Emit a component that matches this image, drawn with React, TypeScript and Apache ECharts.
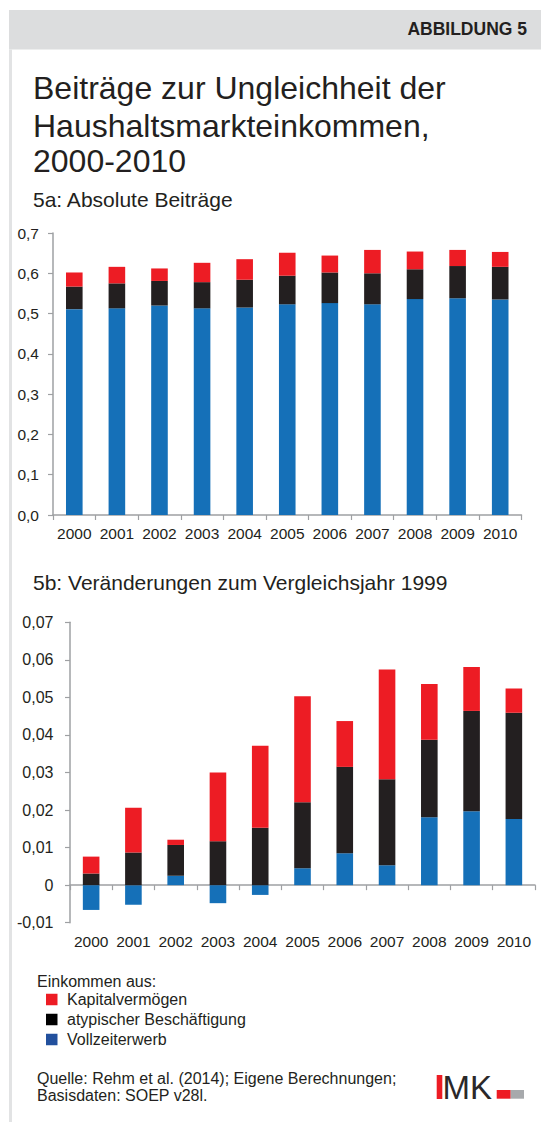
import React, { useEffect, useRef } from "react";
import * as echarts from "echarts";

// ---------- data ----------
const years = ["2000", "2001", "2002", "2003", "2004", "2005", "2006", "2007", "2008", "2009", "2010"];

// 5a: absolute contributions (stacked segments)
const absVollzeit = [0.511, 0.513, 0.520, 0.513, 0.515, 0.523, 0.526, 0.523, 0.536, 0.538, 0.535];
const absAtypisch = [0.056, 0.062, 0.061, 0.065, 0.069, 0.071, 0.076, 0.077, 0.074, 0.080, 0.081];
const absKapital = [0.035, 0.041, 0.031, 0.048, 0.051, 0.057, 0.042, 0.058, 0.044, 0.040, 0.037];

// 5b: changes vs. 1999 (stacked segments)
const chgVollzeit = [-0.0066, -0.0052, 0.0025, -0.0048, -0.0026, 0.0045, 0.0085, 0.0053, 0.0181, 0.0197, 0.0176];
const chgAtypisch = [0.0031, 0.0087, 0.0082, 0.0117, 0.0153, 0.0176, 0.0230, 0.0229, 0.0206, 0.0267, 0.0283];
const chgKapital = [0.0045, 0.0119, 0.0014, 0.0183, 0.0218, 0.0282, 0.0122, 0.0292, 0.0149, 0.0117, 0.0065];

const yTicksAbs = ["0,0", "0,1", "0,2", "0,3", "0,4", "0,5", "0,6", "0,7"];
const yTicksChg = ["-0,01", "0", "0,01", "0,02", "0,03", "0,04", "0,05", "0,06", "0,07"];

const seriesNames = ["Vollzeiterwerb", "atypischer Beschäftigung", "Kapitalvermögen"];
const legendLabels = ["Kapitalvermögen", "atypischer Beschäftigung", "Vollzeiterwerb"];

const titleLines = ["Beiträge zur Ungleichheit der", "Haushaltsmarkteinkommen,", "2000-2010"];
const subtitleA = "5a: Absolute Beiträge";
const subtitleB = "5b: Veränderungen zum Vergleichsjahr 1999";
const legendHeading = "Einkommen aus:";
const sourceLines = ["Quelle: Rehm et al. (2014); Eigene Berechnungen;", "Basisdaten: SOEP v28l."];

// ---------- styles ----------
const FONT = "'Liberation Sans', Arial, Helvetica, sans-serif";
const BLUE = "#1570B8";
const BLACK = "#231F20";
const RED = "#ED1C24";
const LEG_COLORS = ["#ED1C24", "#000000", "#22509D"];
const AXIS = "#9EA0A3";
const TEXT = "#231F20";

function txt(text: string, x: number, y: number, size: number, opts: any = {}) {
  return {
    type: "text",
    x,
    y,
    silent: true,
    style: {
      text,
      fill: opts.fill || TEXT,
      fontSize: size,
      fontFamily: FONT,
      fontWeight: opts.weight || "normal",
      align: opts.align || "left",
      textAlign: opts.align || "left",
      verticalAlign: "middle",
      textVerticalAlign: "middle",
    },
  };
}

export default function App() {
  const ref = useRef<HTMLDivElement>(null);

  useEffect(() => {
    if (!ref.current) return;
    const chart = echarts.init(ref.current, undefined, { renderer: "svg" });

    const graphic: any[] = [
      { type: "rect", silent: true, shape: { x: 9, y: 10, width: 532, height: 39.5 }, style: { fill: "#DCDDDE" } },
      { type: "rect", silent: true, shape: { x: 9, y: 49.5, width: 3, height: 1073 }, style: { fill: "#E2E3E4" } },
      txt("ABBILDUNG 5", 527, 28.5, 17.5, { weight: "bold", align: "right" }),
      txt(titleLines[0], 33, 88, 32),
      txt(titleLines[1], 33, 126, 32),
      txt(titleLines[2], 33, 160.5, 32),
      txt(subtitleA, 33, 199.3, 21),
      txt(subtitleB, 33, 582.7, 21),
      txt(legendHeading, 37, 981.7, 16),
      txt(sourceLines[0], 37, 1078.3, 16),
      txt(sourceLines[1], 37, 1095, 16),
      // IMK logo
      { type: "rect", silent: true, shape: { x: 436.7, y: 1075, width: 5.6, height: 24 }, style: { fill: RED } },
      txt("MK", 442.5, 1087, 33, { fill: "#2B2829" }),
      { type: "rect", silent: true, shape: { x: 496.7, y: 1090, width: 14, height: 8.7 }, style: { fill: RED } },
      { type: "rect", silent: true, shape: { x: 510.7, y: 1090, width: 13.3, height: 8.7 }, style: { fill: "#A7A9AC" } },
    ];
    const legendY = [999.5, 1019.5, 1039.5];
    legendLabels.forEach((l, i) => {
      graphic.push({
        type: "rect",
        silent: true,
        shape: { x: 46, y: legendY[i] - 5.75, width: 11.5, height: 11.5 },
        style: { fill: LEG_COLORS[i] },
      });
      graphic.push(txt(l, 67, legendY[i], 16));
    });

    const axisLabelStyle = { color: TEXT, fontFamily: FONT };

    const option: any = {
      animation: false,
      backgroundColor: "#ffffff",
      textStyle: { fontFamily: FONT },
      graphic,
      grid: [
        { left: 53, top: 233, width: 468.5, height: 282, containLabel: false },
        { left: 70, top: 622.3, width: 465, height: 300.4, containLabel: false },
      ],
      xAxis: [
        {
          gridIndex: 0,
          type: "category",
          data: years,
          axisLine: { lineStyle: { color: AXIS, width: 1.5 } },
          axisTick: { show: true, length: 5, interval: 0, lineStyle: { color: AXIS, width: 1.2 } },
          axisLabel: { ...axisLabelStyle, fontSize: 15.5, margin: 10, interval: 0 },
        },
        {
          gridIndex: 1,
          type: "category",
          data: years,
          axisLine: { onZero: true, lineStyle: { color: AXIS, width: 1.5 } },
          axisTick: { show: true, length: 5, interval: 0, lineStyle: { color: AXIS, width: 1.2 } },
          axisLabel: { ...axisLabelStyle, fontSize: 15.5, margin: 11, interval: 0 },
        },
      ],
      yAxis: [
        {
          gridIndex: 0,
          type: "value",
          min: 0,
          max: 0.7,
          interval: 0.1,
          splitLine: { show: false },
          axisLine: { show: true, lineStyle: { color: AXIS, width: 1.5 } },
          axisTick: { show: true, length: 5, lineStyle: { color: AXIS, width: 1.2 } },
          axisLabel: {
            ...axisLabelStyle,
            fontSize: 15.5,
            margin: 14,
            formatter: (v: number) => yTicksAbs[Math.round(v / 0.1)] ?? "",
          },
        },
        {
          gridIndex: 1,
          type: "value",
          min: -0.01,
          max: 0.07,
          interval: 0.01,
          splitLine: { show: false },
          axisLine: { show: true, lineStyle: { color: AXIS, width: 1.5 } },
          axisTick: { show: true, length: 5, lineStyle: { color: AXIS, width: 1.2 } },
          axisLabel: {
            ...axisLabelStyle,
            fontSize: 16,
            margin: 16.5,
            formatter: (v: number) => yTicksChg[Math.round((v + 0.01) / 0.01)] ?? "",
          },
        },
      ],
      series: [
        { name: seriesNames[0], type: "bar", xAxisIndex: 0, yAxisIndex: 0, stack: "a", barWidth: 16.6, itemStyle: { color: BLUE }, data: absVollzeit },
        { name: seriesNames[1], type: "bar", xAxisIndex: 0, yAxisIndex: 0, stack: "a", barWidth: 16.6, itemStyle: { color: BLACK }, data: absAtypisch },
        { name: seriesNames[2], type: "bar", xAxisIndex: 0, yAxisIndex: 0, stack: "a", barWidth: 16.6, itemStyle: { color: RED }, data: absKapital },
        { name: seriesNames[0], type: "bar", xAxisIndex: 1, yAxisIndex: 1, stack: "b", barWidth: 16.6, itemStyle: { color: BLUE }, data: chgVollzeit },
        { name: seriesNames[1], type: "bar", xAxisIndex: 1, yAxisIndex: 1, stack: "b", barWidth: 16.6, itemStyle: { color: BLACK }, data: chgAtypisch },
        { name: seriesNames[2], type: "bar", xAxisIndex: 1, yAxisIndex: 1, stack: "b", barWidth: 16.6, itemStyle: { color: RED }, data: chgKapital },
      ],
    };

    chart.setOption(option);
    return () => {
      chart.dispose();
    };
  }, []);

  return (
    <div
      ref={ref}
      style={{ position: "absolute", left: 0, top: 0, width: 541, height: 1122, background: "#ffffff" }}
    />
  );
}
